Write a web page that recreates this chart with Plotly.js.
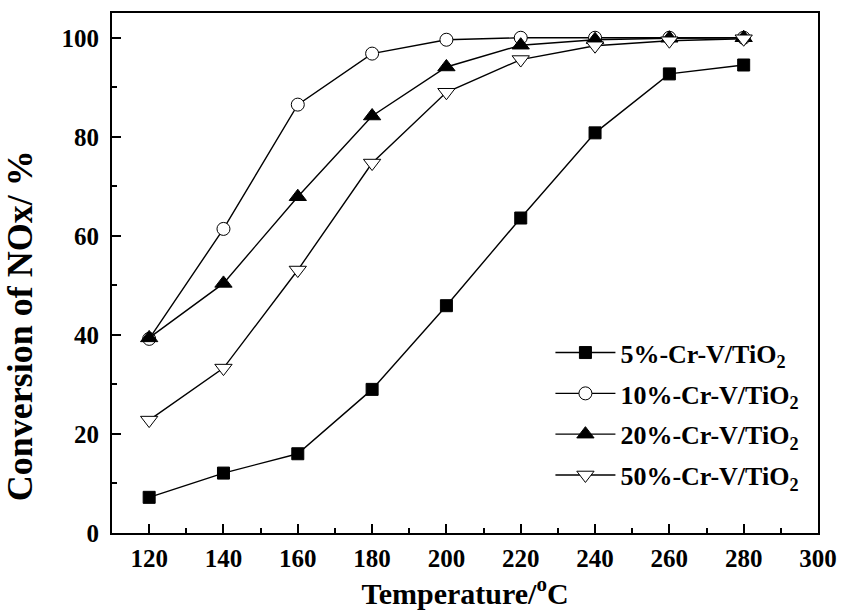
<!DOCTYPE html>
<html>
<head>
<meta charset="utf-8">
<script src="https://cdn.plot.ly/plotly-3.0.1.min.js"></script>
<style>html,body{margin:0;padding:0;background:#fff;}#chart{width:842px;height:616px;}</style>
</head>
<body>
<div id="chart"></div>
<script>
const temperature = [120, 140, 160, 180, 200, 220, 240, 260, 280];
const cr5  = [7.2, 12.1, 16.0, 29.0, 45.9, 63.6, 80.8, 92.7, 94.5];
const cr10 = [39.2, 61.4, 86.5, 96.8, 99.6, 100, 100, 100, 100];
const cr20 = [39.4, 50.4, 67.9, 84.2, 94.1, 98.5, 99.6, 99.9, 100];
const cr50 = [22.8, 33.3, 53.1, 74.7, 89.0, 95.6, 98.4, 99.4, 99.8];
const seriesNames = ['5%-Cr-V/TiO<sub>2</sub>', '10%-Cr-V/TiO<sub>2</sub>', '20%-Cr-V/TiO<sub>2</sub>', '50%-Cr-V/TiO<sub>2</sub>'];
const xTickVals = [120, 140, 160, 180, 200, 220, 240, 260, 280, 300];
const yTickVals = [0, 20, 40, 60, 80, 100];
const xTitle = 'Temperature/<sup>o</sup>C';
const yTitle = 'Conversion of NOx/ %';

const FONT = 'Liberation Serif, Times New Roman, serif';
const line = {color: '#000', width: 1.4};
function tr(y, name, sym, size, fill, grp) {
  return {
    x: temperature, y: y, name: name, type: 'scatter', mode: 'lines+markers',
    legendgroup: grp,
    line: line,
    marker: {symbol: sym, size: size, color: fill, line: {color: '#000', width: 1}}
  };
}
const data = [
  tr(cr5, seriesNames[0], 'square', 12, '#000', 'g1'),
  tr(cr10, seriesNames[1], 'circle', 13, '#fff', 'g2'),
  tr(cr20, seriesNames[2], 'triangle-up', 15, '#000', 'g3'),
  tr(cr50, seriesNames[3], 'triangle-down', 15, '#fff', 'g4')
];
const tickFont = {family: FONT, size: 25, color: '#000', weight: 'bold'};
const layout = {
  width: 842, height: 616,
  margin: {l: 112, r: 24, t: 13, b: 83},
  paper_bgcolor: '#fff', plot_bgcolor: '#fff',
  showlegend: true,
  legend: {
    x: 0.621, y: 0.392, xanchor: 'left', yanchor: 'top',
    bgcolor: 'rgba(0,0,0,0)', borderwidth: 0,
    itemwidth: 60, tracegroupgap: 4,
    font: {family: FONT, size: 26, color: '#000', weight: 'bold'}
  },
  xaxis: {
    showline: true, linewidth: 2, linecolor: '#000', mirror: true,
    ticks: 'inside', ticklen: 9, tickwidth: 2, tickcolor: '#000',
    showgrid: false, zeroline: false, tickfont: tickFont,
    range: [110, 300], tickmode: 'array', tickvals: xTickVals,
    ticklabelstandoff: 2,
    minor: {ticks: 'inside', ticklen: 5, tickwidth: 2, tickcolor: '#000', dtick: 10},
    title: {text: xTitle, font: {family: FONT, size: 30, color: '#000', weight: 'bold'}, standoff: 8}
  },
  yaxis: {
    showline: true, linewidth: 2, linecolor: '#000', mirror: true,
    ticks: 'inside', ticklen: 9, tickwidth: 2, tickcolor: '#000',
    showgrid: false, zeroline: false, tickfont: tickFont,
    range: [0, 105], tickmode: 'array', tickvals: yTickVals,
    ticklabelstandoff: 6,
    minor: {ticks: 'inside', ticklen: 5, tickwidth: 2, tickcolor: '#000', dtick: 10},
    title: {text: ''}
  },
  annotations: [{
    text: yTitle, textangle: -90, showarrow: false,
    xref: 'paper', yref: 'paper', x: -0.13, y: 0.398,
    xanchor: 'center', yanchor: 'middle',
    font: {family: FONT, size: 36, color: '#000', weight: 'bold'}
  }]
};
Plotly.newPlot('chart', data, layout, {displayModeBar: false, staticPlot: true});
</script>
</body>
</html>
